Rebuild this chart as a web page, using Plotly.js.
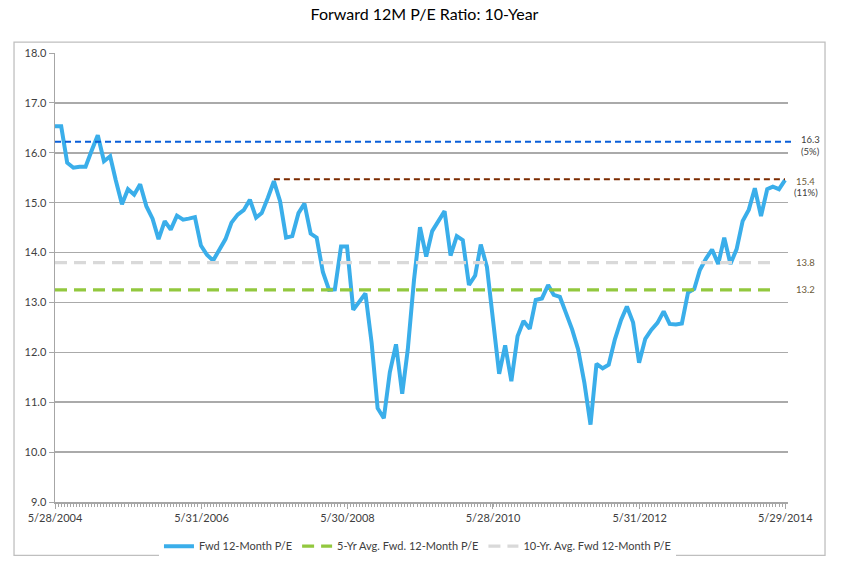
<!DOCTYPE html>
<html>
<head>
<meta charset="utf-8">
<script src="https://cdn.plot.ly/plotly-3.0.1.min.js"></script>
<style>html,body{margin:0;padding:0;background:#fff;}#chart{width:849px;height:573px;}</style>
</head>
<body>
<div id="chart"></div>
<script>
// Monthly forward 12-month P/E, May 2004 .. May 2014
const fwdPE = [
  16.53, 16.53, 15.80, 15.70, 15.72, 15.72, 16.05, 16.35, 15.83, 15.93,
  15.45, 14.97, 15.27, 15.16, 15.37, 14.93, 14.68, 14.27, 14.63, 14.46,
  14.74, 14.66, 14.68, 14.71, 14.14, 13.95, 13.84, 14.05, 14.27, 14.60,
  14.76, 14.85, 15.06, 14.70, 14.79, 15.10, 15.43, 15.03, 14.30, 14.33,
  14.79, 14.98, 14.38, 14.30, 13.61, 13.25, 13.26, 14.12, 14.12, 12.85,
  13.00, 13.18, 12.19, 10.88, 10.68, 11.60, 12.16, 11.17, 12.06, 13.45,
  14.51, 13.92, 14.43, 14.63, 14.83, 13.94, 14.33, 14.25, 13.35, 13.54,
  14.16, 13.71, 12.59, 11.57, 12.14, 11.42, 12.32, 12.63, 12.47, 13.05,
  13.08, 13.35, 13.15, 13.11, 12.79, 12.46, 12.06, 11.40, 10.55, 11.77,
  11.68, 11.75, 12.26, 12.65, 12.92, 12.60, 11.79, 12.27, 12.45, 12.59,
  12.82, 12.57, 12.56, 12.58, 13.20, 13.27, 13.65, 13.88, 14.06, 13.77,
  14.30, 13.77, 14.07, 14.63, 14.86, 15.29, 14.73, 15.27, 15.32, 15.27,
  15.45
];
const startYear = 2004, startMonth = 5;   // first observation month
const tickDates = ['2004-05-28', '2006-05-31', '2008-05-30', '2010-05-28', '2012-05-31', '2014-05-29'];
const tickLabels = ['5/28/2004', '5/31/2006', '5/30/2008', '5/28/2010', '5/31/2012', '5/29/2014'];

const avg5yr = 13.25;      // 5-Yr Avg. Fwd. 12-Month P/E
const avg10yr = 13.8;      // 10-Yr. Avg. Fwd 12-Month P/E
const highLevel = 16.22;   // blue dashed line
const recentPeak = 15.47;  // brown dashed line
const refLabels = ['16.3', '(5%)', '15.4', '(11%)', '13.8', '13.2'];
const seriesNames = ['Fwd 12-Month P/E', '5-Yr Avg. Fwd. 12-Month P/E', '10-Yr. Avg. Fwd 12-Month P/E'];

// month dates
const dates = fwdPE.map((_, i) => {
  const m0 = startMonth - 1 + i;
  const y = startYear + Math.floor(m0 / 12);
  const m = (m0 % 12) + 1;
  return y + '-' + String(m).padStart(2, '0') + '-28';
});
const avgLineX = [dates[0], '2014-04-10'];

const traces = [
  {x: dates, y: fwdPE, type: 'scatter', mode: 'lines', name: seriesNames[0],
   line: {color: '#3AAEEA', width: 4}, hoverinfo: 'skip'},
  {x: avgLineX, y: [avg5yr, avg5yr], type: 'scatter', mode: 'lines', name: seriesNames[1],
   line: {color: '#92C83E', width: 3.2, dash: '12px,7px'}, hoverinfo: 'skip'},
  {x: avgLineX, y: [avg10yr, avg10yr], type: 'scatter', mode: 'lines', name: seriesNames[2],
   line: {color: '#D9D9D9', width: 3.2, dash: '12px,7px'}, hoverinfo: 'skip'}
];

const font = 'Lato, "Open Sans", sans-serif';
const lblColor = '#404040';
const lblColor2 = '#6B5A3A';

const ann = (x, y, text, color) => ({xref: 'paper', yref: 'y', x: x, y: y, text: text, showarrow: false,
  xanchor: 'center', yanchor: 'middle', font: {size: 9.5, color: color}});

const layout = {
  width: 849, height: 573,
  margin: {l: 55, r: 61, t: 53, b: 65},
  paper_bgcolor: '#ffffff', plot_bgcolor: '#ffffff',
  font: {family: font, color: lblColor},
  title: {text: 'Forward 12M P/E Ratio: 10-Year', font: {family: font, size: 16, color: '#000'},
          x: 0.5, xanchor: 'center', y: 0.974, yanchor: 'middle'},
  showlegend: true,
  legend: {orientation: 'h', x: 0.4945, xanchor: 'center', y: -0.066, yanchor: 'top',
           font: {size: 11, color: lblColor}, itemwidth: 30, traceorder: 'normal'},
  xaxis: {type: 'date', range: ['2004-05-28', '2014-06-12'], showgrid: false, zeroline: false,
          showline: true, linecolor: '#A6A6A6', linewidth: 1.5,
          tickmode: 'array', tickvals: tickDates, ticktext: tickLabels,
          ticks: 'outside', ticklen: 5, tickcolor: '#A6A6A6', tickwidth: 1,
          minor: {ticks: 'outside', ticklen: 3, tickcolor: '#A6A6A6', dtick: 1314900000, tick0: '2004-05-28'},
          tickfont: {size: 11, color: lblColor}},
  yaxis: {range: [9, 18], dtick: 1, tick0: 9, tickformat: '.1f', showgrid: true, gridcolor: '#AAAAAA', gridwidth: 1.6,
          zeroline: false, showline: true, linecolor: '#A6A6A6', linewidth: 1.5,
          ticks: 'outside', ticklen: 5, tickcolor: '#A6A6A6',
          tickfont: {size: 11, color: lblColor}},
  shapes: [
    {type: 'rect', xref: 'paper', yref: 'paper', x0: -0.0559, x1: 1.0505, y0: -0.1187, y1: 1.024,
     line: {color: '#BFBFBF', width: 1.3}, fillcolor: 'rgba(0,0,0,0)', layer: 'below'},
    {type: 'line', xref: 'paper', yref: 'y', x0: 0, x1: 1.0096, y0: highLevel, y1: highLevel,
     line: {color: '#0A5FD8', width: 2, dash: '6px,4px'}},
    {type: 'line', xref: 'x', yref: 'y', x0: dates[36], x1: dates[120], y0: recentPeak, y1: recentPeak,
     line: {color: '#7B2A00', width: 2, dash: '6px,4px'}}
  ],
  annotations: [
    ann(1.031, 16.27, refLabels[0], lblColor),
    ann(1.031, 16.02, refLabels[1], lblColor),
    ann(1.024, 15.43, refLabels[2], lblColor2),
    ann(1.025, 15.21, refLabels[3], lblColor),
    ann(1.024, 13.80, refLabels[4], lblColor2),
    ann(1.024, 13.25, refLabels[5], lblColor2)
  ]
};

Plotly.newPlot('chart', traces, layout, {staticPlot: true, displayModeBar: false});
</script>
</body>
</html>
